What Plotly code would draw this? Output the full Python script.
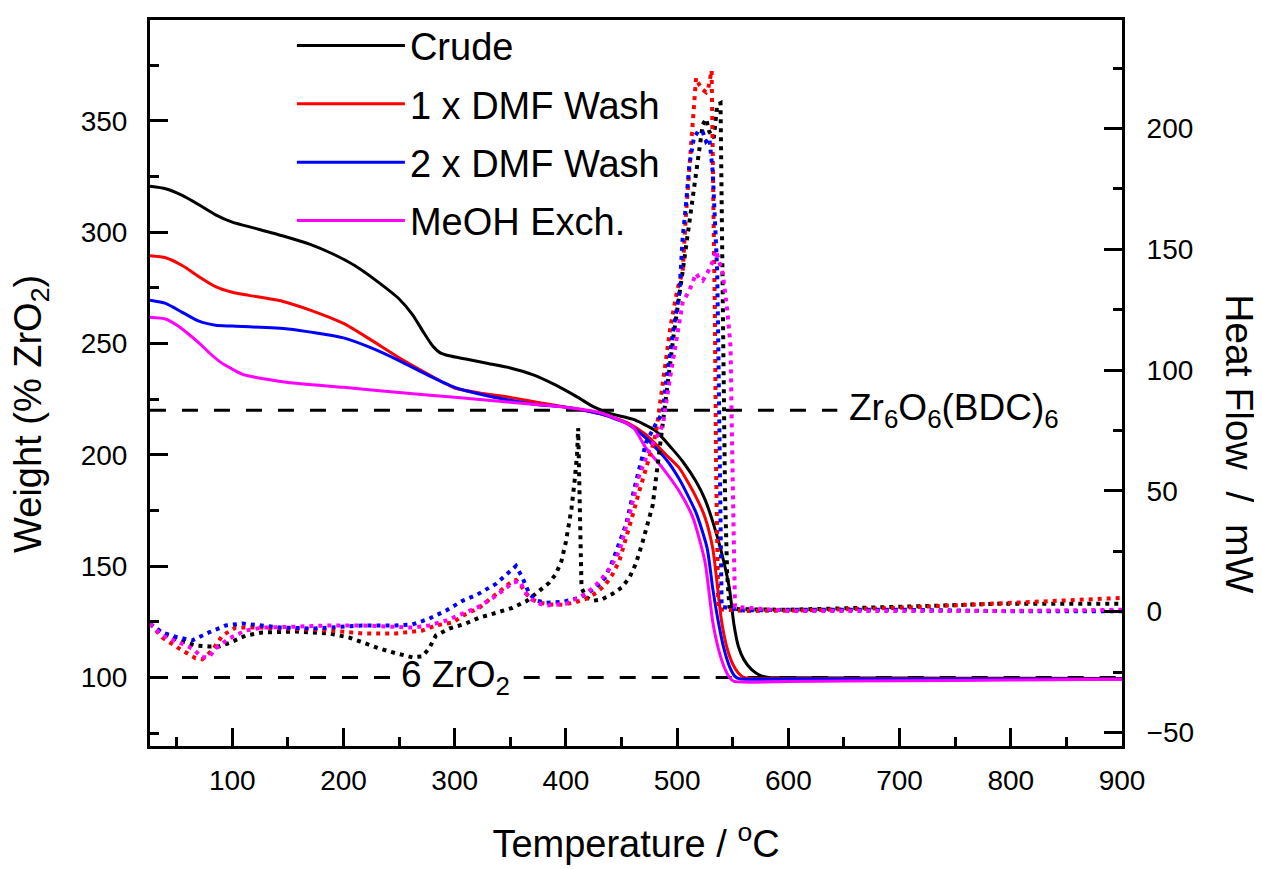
import plotly.graph_objects as go

# ---------------- data ----------------
series_names = ["Crude", "1 x DMF Wash", "2 x DMF Wash", "MeOH Exch."]
series_colors = ["#000000", "#ff0000", "#0000ff", "#ff00ff"]

# TGA (weight, % ZrO2) -- left axis
tga_crude_T = [26, 40, 55, 70, 85, 100, 120, 145, 170, 190, 210, 230, 250, 262, 272, 280, 287, 295, 310, 330, 350, 370, 390, 410, 425, 440, 460, 480, 495, 505, 517, 525, 532, 540, 547, 551, 555, 560, 567, 575, 582, 600, 700, 800, 900]
tga_crude_W = [320.6, 319.5, 316.5, 312.3, 307.8, 304.5, 301.8, 298.4, 294.5, 290.3, 285, 278, 270, 263, 255, 249, 245.8, 244.5, 243, 241, 239, 236, 231.5, 226, 221.5, 218.5, 216, 211, 203, 197, 188, 180, 170, 156, 140, 124, 114, 108, 103.5, 100.8, 100, 99.8, 99.7, 99.6, 99.5]

tga_dmf1_T = [26, 40, 55, 70, 85, 100, 115, 145, 170, 200, 225, 250, 275, 300, 325, 350, 375, 400, 430, 455, 472, 490, 502, 517, 525, 532, 540, 545, 550, 555, 560, 566, 600, 700, 800, 900]
tga_dmf1_W = [289.4, 288.5, 285, 280, 275.5, 273, 271.6, 269, 265, 259, 251.5, 243.6, 236.5, 230, 227.5, 225.8, 223.5, 221.4, 218.5, 214.5, 209, 200, 194, 181, 172, 158, 125, 113, 106, 102, 100, 99.5, 99.4, 99.4, 99.4, 99.4]

tga_dmf2_T = [26, 40, 55, 70, 85, 100, 150, 200, 225, 250, 275, 300, 325, 350, 375, 400, 430, 455, 472, 490, 502, 517, 527, 532, 537, 542, 547, 552, 556, 600, 700, 800, 900]
tga_dmf2_W = [269.4, 268, 264, 260, 258.2, 257.8, 256.5, 252.5, 248, 242.3, 236, 230.3, 227, 224.5, 222.5, 221.4, 218.5, 214, 207.5, 198, 189, 174, 158, 140, 125, 113, 105, 100.5, 99.4, 99.3, 99.3, 99.3, 99.3]

tga_meoh_T = [26, 40, 50, 60, 70, 80, 90, 100, 110, 130, 150, 200, 250, 300, 350, 400, 430, 460, 472, 487, 502, 514, 525, 532, 537, 542, 547, 551, 600, 700, 800, 900]
tga_meoh_W = [261.8, 261, 258.3, 254.5, 250.3, 245.5, 241.4, 238.5, 236, 234, 232.5, 230.3, 228, 225.8, 223.6, 221.4, 219, 212.5, 203, 194, 183.5, 172, 152, 125, 113, 105, 100, 98.2, 98.2, 98.5, 98.8, 99.2]

# DSC (heat flow, mW) -- right axis
dsc_crude_T = [26, 37, 52, 67, 79, 88, 97, 112, 127, 157, 187, 205, 217, 232, 247, 262, 271, 277, 283, 295, 310, 322, 337, 352, 365, 376, 385, 391, 396, 400, 405, 408, 410, 411, 412, 413, 414, 418, 424, 432, 442, 450, 457, 463, 469, 478, 484, 490, 497, 505, 511, 517, 520, 523, 526, 529, 533, 536, 539, 540, 541, 542, 543, 545, 547, 555, 600, 700, 790, 900]
dsc_crude_H = [-5, -9, -11.9, -14, -14.4, -14.4, -13, -9.9, -8.6, -8.2, -9, -10.7, -12.7, -15.2, -17.2, -18.9, -18.5, -15.2, -9.9, -7, -4.9, -2.5, -0.5, 1.6, 4.5, 8.6, 12, 15.6, 21, 29, 42.7, 55, 65, 76, 50, 25, 9.9, 6, 4.5, 5, 7.4, 10, 14, 20, 29, 44, 67, 90.7, 115, 141, 161.7, 182, 192, 201.6, 204, 198.6, 196, 209.8, 210.5, 170, 130, 90, 50, 15, 2, 1, 0.8, 2, 3.3, 3.3]

dsc_dmf1_T = [26, 37, 52, 67, 73, 82, 91, 103, 127, 157, 187, 217, 247, 271, 283, 298, 310, 322, 337, 352, 355, 360, 364, 370, 376, 385, 397, 408, 418, 428, 436, 442, 448, 454, 460, 466, 472, 477, 481, 487, 494, 500, 505, 508, 511, 514, 517, 520, 523, 526, 528, 531, 532, 533, 534, 535, 536, 537, 560, 600, 700, 790, 900]
dsc_dmf1_H = [-5, -10.7, -15.2, -19.3, -19.7, -16, -9.9, -6.6, -6.6, -7, -7.8, -9, -9, -7.8, -5.7, -4.5, -1, 1.6, 7.4, 12.7, 13.1, 10.5, 7.4, 5, 3.7, 3, 2.9, 3.8, 5.3, 8, 11.5, 15.5, 21, 30, 40, 50, 59, 67, 74, 95, 118, 133, 141, 165, 185, 205.7, 220.9, 218, 216, 215, 216.7, 224, 195, 160, 120, 60, 10, 1, 0.3, 0.4, 1.6, 3.3, 5.7]

dsc_dmf2_T = [26, 37, 50, 64, 79, 94, 109, 142, 172, 217, 247, 262, 277, 292, 307, 320, 337, 352, 355, 361, 367, 374, 382, 397, 412, 427, 435, 442, 448, 454, 463, 472, 480, 487, 490, 496, 502, 505, 508, 511, 515, 519, 523, 526, 529, 532, 534, 536, 537, 538, 539, 540, 560, 600, 700, 800, 900]
dsc_dmf2_H = [-5, -8.6, -10.5, -11.9, -8.6, -5.7, -4.9, -6.5, -7, -5.7, -5.7, -5.3, -2.9, 0.4, 4.5, 7, 11.5, 18, 18.9, 14, 7.4, 4.5, 3.7, 4.1, 5.7, 9.9, 14, 21, 28, 36, 53.8, 70, 77, 82.5, 94.8, 115, 131.8, 155, 168.7, 185, 196, 199, 198.6, 194.6, 196, 182, 161.7, 141, 110, 70, 25, 2, 0.5, 0.8, 0.8, 0.2, 0.2]

dsc_meoh_T = [26, 37, 52, 64, 73, 79, 85, 97, 112, 127, 157, 187, 217, 247, 262, 277, 292, 307, 320, 337, 352, 358, 363, 367, 375, 382, 400, 418, 427, 436, 442, 448, 457, 466, 475, 481, 487, 493, 500, 505, 511, 517, 520, 523, 528, 532, 535, 538, 541, 545, 548, 549, 550, 551, 552, 600, 700, 800, 900]
dsc_meoh_H = [-5, -9.9, -12.7, -15.2, -18.9, -18.9, -15.2, -11.1, -7.8, -6.6, -6.2, -5.7, -5.7, -6.2, -6.6, -5.7, -3.7, -0.8, 1.6, 6.5, 11.9, 12.7, 9, 5.7, 3.5, 2.5, 3.3, 7.4, 11, 15.6, 20, 25, 40, 56.7, 67, 72, 77, 95, 115, 128, 133, 140, 138, 137, 141, 145, 149.4, 145, 140, 125, 110, 80, 45, 15, 2, 0.3, 0.3, 0.3, 0.8]

# reference compositions
ref_levels = [220, 100]
ref_labels = ["Zr<sub>6</sub>O<sub>6</sub>(BDC)<sub>6</sub>", "6 ZrO<sub>2</sub>"]

x_range = [26, 900]
y_range = [69.2, 395.3]
y2_range = [-55.6, 244.9]

tga_T = [tga_crude_T, tga_dmf1_T, tga_dmf2_T, tga_meoh_T]
tga_W = [tga_crude_W, tga_dmf1_W, tga_dmf2_W, tga_meoh_W]
dsc_T = [dsc_crude_T, dsc_dmf1_T, dsc_dmf2_T, dsc_meoh_T]
dsc_H = [dsc_crude_H, dsc_dmf1_H, dsc_dmf2_H, dsc_meoh_H]

FONT = "Arial, 'Liberation Sans', Helvetica, sans-serif"
NB = "\u00a0"

fig = go.Figure()

# reference dashed lines (left axis)
ref_220_end = 644        # line stops before its label
gap_100 = [246, 362]     # gap in the 100 line where its label sits
fig.add_trace(go.Scatter(x=[x_range[0], ref_220_end], y=[ref_levels[0]] * 2, mode="lines",
                         line=dict(color="black", width=3, dash="16px,16px"),
                         showlegend=False, hoverinfo="skip"))
fig.add_trace(go.Scatter(x=[x_range[0], gap_100[0], None, gap_100[1], x_range[1]],
                         y=[ref_levels[1], ref_levels[1], None, ref_levels[1], ref_levels[1]],
                         mode="lines", line=dict(color="black", width=3, dash="16px,16px"),
                         showlegend=False, hoverinfo="skip", connectgaps=False))

for i, name in enumerate(series_names):
    fig.add_trace(go.Scatter(x=tga_T[i], y=tga_W[i], mode="lines", name=name,
                             legendgroup=name,
                             line=dict(color=series_colors[i], width=3, shape="spline", smoothing=0.6)))

for i, name in enumerate(series_names):
    fig.add_trace(go.Scatter(x=dsc_T[i], y=dsc_H[i], mode="lines", name=name + " DSC",
                             yaxis="y2", showlegend=False,
                             line=dict(color=series_colors[i], width=4, dash="4px,5px")))

fig.add_annotation(x=653, y=ref_levels[0], xref="x", yref="y", text=ref_labels[0],
                   showarrow=False, xanchor="left", yanchor="middle",
                   font=dict(family=FONT, size=37, color="black"))
fig.add_annotation(x=gap_100[0] + 4, y=ref_levels[1], xref="x", yref="y", text=ref_labels[1],
                   showarrow=False, xanchor="left", yanchor="middle",
                   font=dict(family=FONT, size=37, color="black"))

# axis titles (left / right) as rotated text
fig.add_annotation(x=-0.122, y=0.458, xref="paper", yref="paper", text="Weight (% ZrO<sub>2</sub>)",
                   textangle=-90, showarrow=False, xanchor="center", yanchor="middle",
                   font=dict(family=FONT, size=38, color="black"))
fig.add_annotation(x=1.1215, y=0.417, xref="paper", yref="paper",
                   text="Heat Flow" + NB * 2 + "/" + NB * 2 + "mW",
                   textangle=90, showarrow=False, xanchor="center", yanchor="middle",
                   font=dict(family=FONT, size=39, color="black"))

axis_common = dict(showline=True, linecolor="black", linewidth=3, ticks="inside",
                   ticklen=18, tickwidth=3, tickcolor="black", showgrid=False, zeroline=False,
                   tickfont=dict(family=FONT, size=28, color="black"))

fig.update_layout(
    width=1262, height=869,
    margin=dict(l=142, r=148, t=6, b=131),
    paper_bgcolor="white", plot_bgcolor="white",
    font=dict(family=FONT, color="black"),
    xaxis=dict(range=x_range, tick0=0, dtick=100, mirror=True, ticklabelstandoff=7,
               minor=dict(ticks="inside", ticklen=9, tickwidth=3, tickcolor="black", dtick=50, tick0=0),
               title=dict(text="Temperature / <sup>o</sup>C", font=dict(family=FONT, size=38), standoff=36),
               **axis_common),
    yaxis=dict(range=y_range, tick0=0, dtick=50, mirror=True, ticklabelstandoff=14,
               minor=dict(ticks="inside", ticklen=9, tickwidth=3, tickcolor="black", dtick=25, tick0=0),
               **axis_common),
    yaxis2=dict(range=y2_range, overlaying="y", side="right", tick0=0, dtick=50, ticklabelstandoff=16,
                minor=dict(ticks="inside", ticklen=9, tickwidth=3, tickcolor="black", dtick=25, tick0=0),
                **axis_common),
    legend=dict(x=0.146, y=1.008, xanchor="left", yanchor="top", bgcolor="rgba(0,0,0,0)",
                font=dict(family=FONT, size=38, color="black"), itemwidth=108,
                tracegroupgap=6),
    showlegend=True,
)

fig.write_html("out.html")
